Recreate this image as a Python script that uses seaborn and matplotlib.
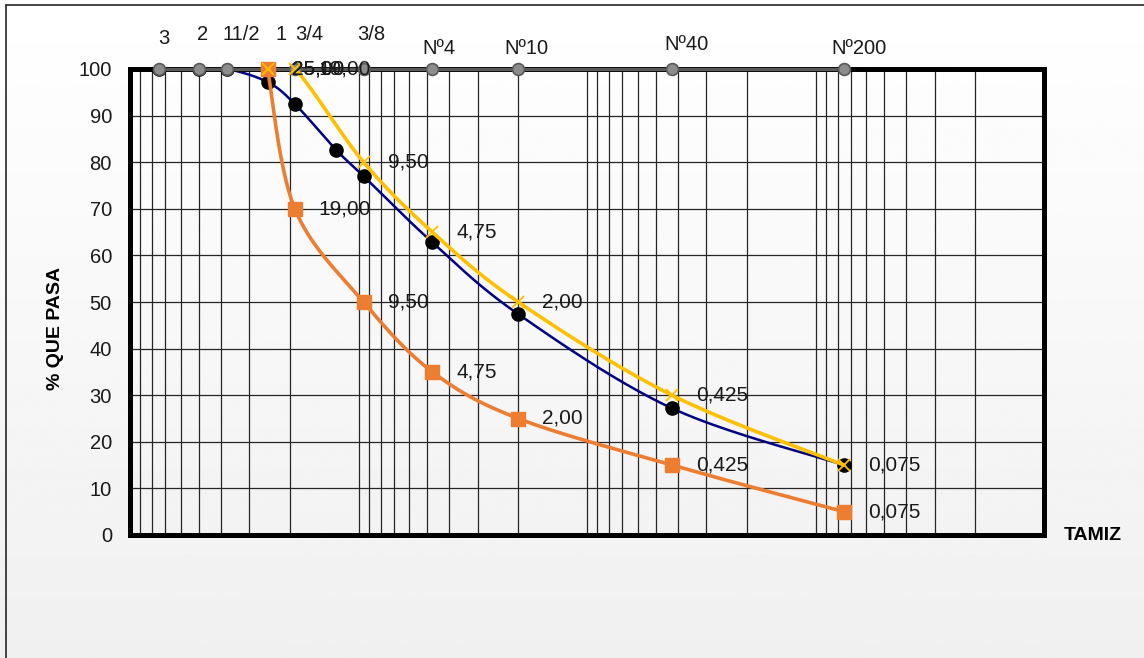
import numpy as np
import matplotlib
matplotlib.use("Agg")
import matplotlib.pyplot as plt
import seaborn as sns
import pandas as pd
from matplotlib.ticker import LogLocator, NullFormatter
from matplotlib.lines import Line2D

# ---------------- data ----------------
sieve_labels = ["3", "2", "11/2", "1", "3/4", "3/8", "Nº4", "Nº10", "Nº40", "Nº200"]
sieve_mm = [75, 50, 37.5, 25, 19, 9.5, 4.75, 2.0, 0.425, 0.075]
sieve_pasa = [100] * len(sieve_mm)

muestra_mm = [75, 50, 37.5, 25, 19, 12.5, 9.5, 4.75, 2.0, 0.425, 0.075]
muestra_pasa = [100, 100, 100, 97.2, 92.5, 82.6, 77.0, 62.8, 47.4, 27.2, 15.0]

sup_mm = [25, 19, 9.5, 4.75, 2.0, 0.425, 0.075]
sup_pasa = [100, 100, 80, 65, 50, 30, 15]

inf_mm = [25, 19, 9.5, 4.75, 2.0, 0.425, 0.075]
inf_pasa = [100, 70, 50, 35, 25, 15, 5]

y_ticks = [0, 10, 20, 30, 40, 50, 60, 70, 80, 90, 100]

# label offsets (pixels) for the sieve names above the top line
sieve_dx = [5, 4, 14, 13, 14, 8, 7, 8, 15, 15]
sieve_dy = [31, 34, 34, 34, 34, 34, 20, 20, 24, 20]

# ---------------- helpers ----------------
def smooth(xs, ys, n=40):
    P = np.column_stack([np.log10(np.asarray(xs, float)), np.asarray(ys, float)])
    segs = []
    for i in range(len(P) - 1):
        p0 = P[i - 1] if i > 0 else P[i]
        p1, p2 = P[i], P[i + 1]
        p3 = P[i + 2] if i + 2 < len(P) else P[i + 1]
        c1 = p1 + (p2 - p0) / 6.0
        c2 = p2 - (p3 - p1) / 6.0
        t = np.linspace(0, 1, n)[:, None]
        seg = (1 - t) ** 3 * p1 + 3 * (1 - t) ** 2 * t * c1 + 3 * (1 - t) * t ** 2 * c2 + t ** 3 * p2
        segs.append(seg if i == 0 else seg[1:])
    out = np.vstack(segs)
    return pd.DataFrame({"x": 10 ** out[:, 0], "y": out[:, 1]})

def fmt(v):
    s = f"{v:.3f}"
    if s.endswith("0"):
        s = s[:-1]
    return s.replace(".", ",")

# ---------------- figure ----------------
sns.set_theme(style="white")
plt.rcParams["font.family"] = ["Liberation Sans", "DejaVu Sans"]

W, H, DPI = 1144, 658, 100
fig = plt.figure(figsize=(W / DPI, H / DPI), dpi=DPI)
px = 72.0 / DPI  # points per pixel

# gradient background
bg = fig.add_axes([0, 0, 1, 1], zorder=-10)
grad = np.linspace(1.0, 0.94, 256)[:, None]
bg.imshow(np.repeat(grad, 2, axis=1), cmap="gray", vmin=0, vmax=1, aspect="auto",
          extent=[0, 1, 0, 1], origin="upper")
bg.set_axis_off()

# outer border
fig.add_artist(Line2D([6 / W, 6 / W], [0, 1 - 5 / H], color="#262626", lw=1.2))
fig.add_artist(Line2D([6 / W, 1], [1 - 5 / H, 1 - 5 / H], color="#262626", lw=1.2))

L, R, T, B = 130, 1044, 69, 535
ax = fig.add_axes([L / W, 1 - B / H, (R - L) / W, (B - T) / H])
ax.set_facecolor("none")

ax.set_xscale("log")
ax.set_xlim(100, 0.01)
ax.set_ylim(0, 100)

ax.xaxis.set_major_locator(LogLocator(base=10))
ax.xaxis.set_minor_locator(LogLocator(base=10, subs=np.arange(2, 10)))
ax.xaxis.set_major_formatter(NullFormatter())
ax.xaxis.set_minor_formatter(NullFormatter())
ax.set_yticks(y_ticks)
ax.tick_params(axis="both", which="both", length=0)
ax.tick_params(axis="y", pad=13, labelsize=14.5, labelcolor="#1a1a1a")
ax.grid(True, which="both", axis="x", color="#262626", lw=0.9)
ax.grid(True, which="major", axis="y", color="#262626", lw=0.9)
ax.set_axisbelow(True)
for s in ax.spines.values():
    s.set_color("black")
    s.set_linewidth(3.6)
    s.set_zorder(5)

# Muestra (navy)
sns.lineplot(data=smooth(muestra_mm, muestra_pasa), x="x", y="y", sort=False,
             estimator=None, color="#000080", lw=1.8, ax=ax, zorder=3)
ax.plot(muestra_mm, muestra_pasa, ls="none", marker="o", ms=9.5, color="black", zorder=3.2)

# Tamices (grey line on top)
ax.plot(sieve_mm, sieve_pasa, color="#595959", lw=2.4, marker="o", ms=8.5,
        mfc="#8c8c8c", mec="#595959", mew=1.2, zorder=6, clip_on=False)
for lab, xv, dx, dy in zip(sieve_labels, sieve_mm, sieve_dx, sieve_dy):
    ax.annotate(lab, (xv, 100), xytext=(dx * px, dy * px), textcoords="offset points",
                ha="center", va="center", fontsize=14.5, color="#1a1a1a",
                annotation_clip=False, zorder=9)

# Limite inferior (orange)
sns.lineplot(data=smooth(inf_mm, inf_pasa), x="x", y="y", sort=False,
             estimator=None, color="#ED7D31", lw=2.6, ax=ax, zorder=7)
ax.plot(inf_mm, inf_pasa, ls="none", marker="s", ms=10, color="#ED7D31", zorder=7.2,
        clip_on=False)

# Limite superior (yellow)
sns.lineplot(data=smooth(sup_mm, sup_pasa), x="x", y="y", sort=False,
             estimator=None, color="#FFC000", lw=2.6, ax=ax, zorder=8)
ax.plot(sup_mm, sup_pasa, ls="none", marker="x", ms=9, mew=1.3, color="#FFC000",
        zorder=8.2, clip_on=False)

for xs, ys in [(inf_mm, inf_pasa), (sup_mm, sup_pasa)]:
    for xv, yv in zip(xs, ys):
        ax.annotate(fmt(xv), (xv, yv), xytext=(24 * px, 0), textcoords="offset points",
                    ha="left", va="center", fontsize=15, color="#1a1a1a",
                    annotation_clip=False, zorder=9)

ax.set_xlabel("")
ax.set_ylabel("")
fig.text(55 / W, 1 - 328 / H, "% QUE PASA", rotation=90, ha="center", va="center",
         fontsize=14, fontweight="bold", color="black")
fig.text(1093 / W, 1 - 535 / H, "TAMIZ", ha="center", va="center",
         fontsize=14, fontweight="bold", color="black")

fig.savefig("out.png", dpi=DPI)
